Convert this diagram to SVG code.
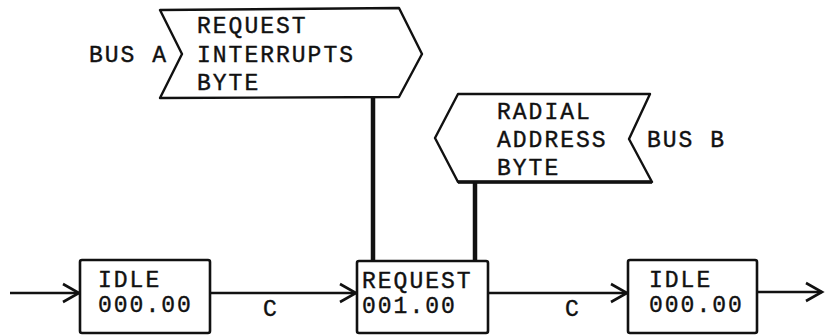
<svg xmlns="http://www.w3.org/2000/svg" width="825" height="336" viewBox="0 0 825 336">
  <style>
    .t { font-family: "Liberation Mono", "DejaVu Sans Mono", monospace; font-size: 23px; letter-spacing: 2px; fill: #111; stroke: #111; stroke-width: 0.4px; }
    .box { fill: #fff; stroke: #111; stroke-width: 2.6; }
    .flag { fill: #fff; stroke: #111; stroke-width: 2.4; stroke-linejoin: round; }
    .flow { fill: none; stroke: #111; stroke-width: 2.6; }
    .tie { fill: none; stroke: #111; stroke-width: 4.5; }
  </style>
  <defs>
    <marker id="open" markerUnits="userSpaceOnUse" markerWidth="24" markerHeight="24" viewBox="-20 -12 24 24" refX="0" refY="0" orient="auto">
      <path d="M -16 -9 L 0 0 L -16 9" fill="none" stroke="#111" stroke-width="2.6" stroke-linejoin="miter"/>
    </marker>
  </defs>
  <rect width="825" height="336" fill="#fff"/>

  <!-- connectors -->
  <g id="connectors">
    <line class="flow" x1="10" y1="293" x2="79" y2="293" marker-end="url(#open)"/>
    <line class="flow" x1="210" y1="293" x2="356" y2="293" marker-end="url(#open)"/>
    <line class="flow" x1="488" y1="293" x2="627" y2="293" marker-end="url(#open)"/>
    <line class="flow" x1="757" y1="292" x2="822" y2="292" marker-end="url(#open)"/>
    <line class="tie" x1="373" y1="98" x2="373" y2="261"/>
    <line class="tie" x1="475" y1="182" x2="475" y2="261"/>
    <text class="t" x="263" y="316">C</text>
    <text class="t" x="565" y="316">C</text>
  </g>

  <!-- bus A byte -->
  <g id="bus-a">
    <path class="flag" d="M 160 10 L 399 8 L 422 54 L 399 97 L 160 98 L 182 54 Z"/>
    <text class="t" x="89" y="62">BUS A</text>
    <text class="t" x="197" y="33">REQUEST</text>
    <text class="t" x="197" y="62">INTERRUPTS</text>
    <text class="t" x="197" y="90">BYTE</text>
  </g>

  <!-- bus B byte -->
  <g id="bus-b">
    <path class="flag" d="M 458 94 L 650 94 L 629 139 L 652 182 L 458 182 L 435 138 Z"/>
    <line x1="458" y1="182" x2="652" y2="182" stroke="#111" stroke-width="3.4"/>
    <text class="t" x="497" y="119">RADIAL</text>
    <text class="t" x="497" y="147">ADDRESS</text>
    <text class="t" x="497" y="175">BYTE</text>
    <text class="t" x="647" y="147">BUS B</text>
  </g>

  <!-- states -->
  <g id="idle-1">
    <rect class="box" x="80" y="260" width="130" height="73" rx="2"/>
    <text class="t" x="98" y="287">IDLE</text>
    <text class="t" x="98" y="312">000.00</text>
  </g>
  <g id="request">
    <rect class="box" x="357" y="261" width="131" height="72" rx="2"/>
    <text class="t" x="362" y="288">REQUEST</text>
    <text class="t" x="362" y="313">001.00</text>
  </g>
  <g id="idle-2">
    <rect class="box" x="628" y="260" width="129" height="73" rx="2"/>
    <text class="t" x="649" y="287">IDLE</text>
    <text class="t" x="649" y="312">000.00</text>
  </g>
</svg>
